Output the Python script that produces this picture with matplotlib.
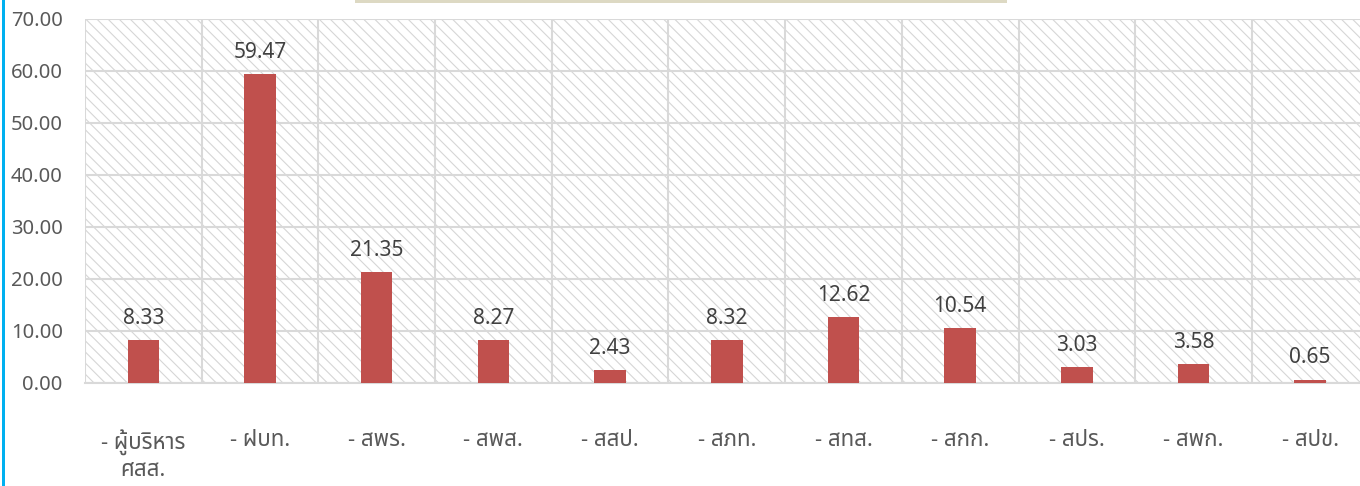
import matplotlib
matplotlib.use('Agg')
import matplotlib.pyplot as plt
from matplotlib.patches import Rectangle

plt.rcParams['font.family'] = ['Noto Sans Thai', 'IBM Plex Sans Thai', 'DejaVu Sans']
plt.rcParams['hatch.color'] = '#d6d6d6'
plt.rcParams['hatch.linewidth'] = 0.8

categories = ['- ผู้บริหาร\nศสส.', '- ฝบท.', '- สพร.', '- สพส.', '- สสป.', '- สภท.',
              '- สทส.', '- สกก.', '- สปร.', '- สพก.', '- สปข.']
values = [8.33, 59.47, 21.35, 8.27, 2.43, 8.32, 12.62, 10.54, 3.03, 3.58, 0.65]

fig = plt.figure(figsize=(13.6, 4.86), dpi=100)
ax = fig.add_axes([0.0625, 0.212, 0.9438, 0.749])

x = list(range(len(categories)))
ax.set_xlim(-0.5, len(categories) - 0.5)
ax.set_ylim(0, 70)

# hatched plot area background
ax.add_patch(Rectangle((0, 0), 1, 1, transform=ax.transAxes, facecolor='white',
                       edgecolor='#d6d6d6', hatch='\\\\\\', linewidth=0, zorder=0))

bars = ax.bar(x, values, width=0.27, color='#c0504d', zorder=3)
for xi, v in zip(x, values):
    ax.annotate(f'{v:.2f}', (xi, v), xytext=(0, 8), textcoords='offset points',
                ha='center', va='bottom', fontsize=15, color='#404040', zorder=4)

ax.set_yticks(range(0, 71, 10))
ax.set_yticklabels([f'{t:.2f}' for t in range(0, 71, 10)])
ax.set_xticks(x)
ax.set_xticklabels(categories, linespacing=1.25, fontweight='medium')
ax.set_xticks([i - 0.5 for i in range(len(categories) + 1)], minor=True)
ax.tick_params(axis='y', length=0, pad=16, labelsize=14.5, labelcolor='#595959')
ax.tick_params(axis='x', which='major', length=0, pad=34, labelsize=16, labelcolor='#595959')
ax.tick_params(axis='x', which='minor', length=0)

ax.grid(axis='y', color='#d9d9d9', linewidth=1.5, zorder=1)
ax.grid(axis='x', which='minor', color='#d9d9d9', linewidth=1.5, zorder=1)
ax.grid(axis='x', which='major', visible=False)
ax.set_axisbelow(True)
for s in ['left', 'right', 'top']:
    ax.spines[s].set_visible(False)
ax.spines['bottom'].set_color('#d9d9d9')
ax.spines['bottom'].set_linewidth(1.5)

# blue frame edge on the left and beige title box edge at the top
fig.add_artist(Rectangle((0.0015, 0), 0.0025, 1, transform=fig.transFigure,
                         facecolor='#00b0f0', edgecolor='none'))
fig.add_artist(Rectangle((355 / 1360, 1 - 3 / 486), 652 / 1360, 3 / 486,
                         transform=fig.transFigure, facecolor='#ddd9c3', edgecolor='none'))

fig.savefig('out.png', dpi=100)
